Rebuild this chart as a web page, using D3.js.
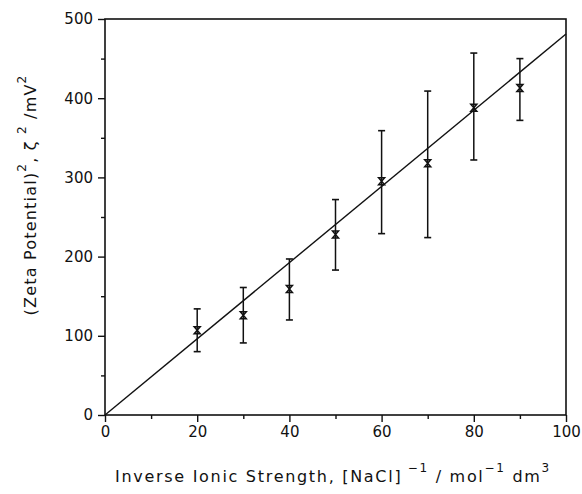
<!DOCTYPE html>
<html>
<head>
<meta charset="utf-8">
<script src="https://cdn.jsdelivr.net/npm/d3@7"></script>
<style>
  body { margin: 0; background: #fff; }
  text { font-family: "DejaVu Sans", sans-serif; fill: #111; }
</style>
</head>
<body>
<script>
// values
var strength = [20, 30, 40, 50, 60, 70, 80, 90];
var zeta2    = [107, 126, 159, 228, 295, 318, 388, 413];
var errLow   = [80, 91, 120, 183, 229, 224, 322, 372];
var errHigh  = [134, 161, 197, 272, 359, 409, 457, 450];
var fitLine  = [[0, 0], [100, 481]];
var xTicks = [0, 20, 40, 60, 80, 100];
var yTicks = [0, 100, 200, 300, 400, 500];

var W = 582, H = 494;
var svg = d3.select("body")
            .append("svg")
            .attr("width", W)
            .attr("height", H);

var x = d3.scaleLinear().domain([0, 100]).range([105, 566]);
var y = d3.scaleLinear().domain([0, 500]).range([415, 19]);

// frame
svg.append("rect")
    .attr("x", x(0))
    .attr("y", y(500))
    .attr("width", x(100) - x(0))
    .attr("height", y(0) - y(500))
    .attr("fill", "none")
    .attr("stroke", "#111")
    .attr("stroke-width", 1.6);

// axes, major + minor ticks
svg.append("g")
    .attr("transform", "translate(0," + y(0) + ")")
    .call(d3.axisBottom(x).tickValues(xTicks).tickSize(7).tickPadding(4).tickFormat(d3.format("d")));
svg.append("g")
    .attr("transform", "translate(0," + y(0) + ")")
    .call(d3.axisBottom(x).tickValues(d3.range(10, 100, 20)).tickSize(4).tickFormat(""));

svg.append("g")
    .attr("transform", "translate(" + x(0) + ",0)")
    .call(d3.axisLeft(y).tickValues(yTicks).tickSize(7).tickPadding(5).tickFormat(d3.format("d")));
svg.append("g")
    .attr("transform", "translate(" + x(0) + ",0)")
    .call(d3.axisLeft(y).tickValues(d3.range(50, 500, 100)).tickSize(4).tickFormat(""));

svg.selectAll(".domain").remove();
svg.selectAll(".tick line").attr("stroke", "#111").attr("stroke-width", 1.4);
svg.selectAll(".tick text")
    .style("font-family", "DejaVu Sans, sans-serif")
    .style("font-size", "15px")
    .attr("fill", "#111");

// fitted line
svg.append("line")
    .attr("x1", x(fitLine[0][0]))
    .attr("y1", y(fitLine[0][1]))
    .attr("x2", x(fitLine[1][0]))
    .attr("y2", y(fitLine[1][1]))
    .attr("stroke", "#111")
    .attr("stroke-width", 1.4);

// error bars
var bars = svg.append("g").selectAll("g")
    .data(strength)
    .enter().append("g");

bars.append("line")
    .attr("x1", d => x(d)).attr("x2", d => x(d))
    .attr("y1", (d, i) => y(errLow[i]))
    .attr("y2", (d, i) => y(errHigh[i]))
    .attr("stroke", "#111").attr("stroke-width", 1.5);
bars.append("line")
    .attr("x1", d => x(d) - 3.5).attr("x2", d => x(d) + 3.5)
    .attr("y1", (d, i) => y(errLow[i])).attr("y2", (d, i) => y(errLow[i]))
    .attr("stroke", "#111").attr("stroke-width", 1.6);
bars.append("line")
    .attr("x1", d => x(d) - 3.5).attr("x2", d => x(d) + 3.5)
    .attr("y1", (d, i) => y(errHigh[i])).attr("y2", (d, i) => y(errHigh[i]))
    .attr("stroke", "#111").attr("stroke-width", 1.6);

// hourglass-like x markers
bars.append("path")
    .attr("transform", (d, i) => "translate(" + x(d) + "," + y(zeta2[i]) + ")")
    .attr("d", "M-3,-3.5 H3 L-3,3.5 H3 Z")
    .attr("fill", "none")
    .attr("stroke", "#111")
    .attr("stroke-width", 1.5);

// axis titles
var xt = svg.append("text")
    .attr("x", 333)
    .attr("y", 482)
    .attr("text-anchor", "middle")
    .style("font-size", "16px")
    .style("letter-spacing", "1.7px");
xt.append("tspan").text("Inverse Ionic Strength, [NaCl]");
xt.append("tspan").attr("dy", -10).style("font-size", "12px").text(" \u22121");
xt.append("tspan").attr("dy", 10).text(" / mol");
xt.append("tspan").attr("dy", -10).style("font-size", "12px").text("\u22121");
xt.append("tspan").attr("dy", 10).text(" dm");
xt.append("tspan").attr("dy", -10).style("font-size", "12px").text("3");

var yt = svg.append("text")
    .attr("transform", "translate(36,195) rotate(-90)")
    .attr("text-anchor", "middle")
    .style("font-size", "16px")
    .style("letter-spacing", "1.2px");
yt.append("tspan").text("(Zeta Potential)");
yt.append("tspan").attr("dy", -10).style("font-size", "12px").text("2");
yt.append("tspan").attr("dy", 10).text(", \u03B6 ");
yt.append("tspan").attr("dy", -10).style("font-size", "12px").text("2");
yt.append("tspan").attr("dy", 10).text(" /mV");
yt.append("tspan").attr("dy", -10).style("font-size", "12px").text("2");
</script>
</body>
</html>
